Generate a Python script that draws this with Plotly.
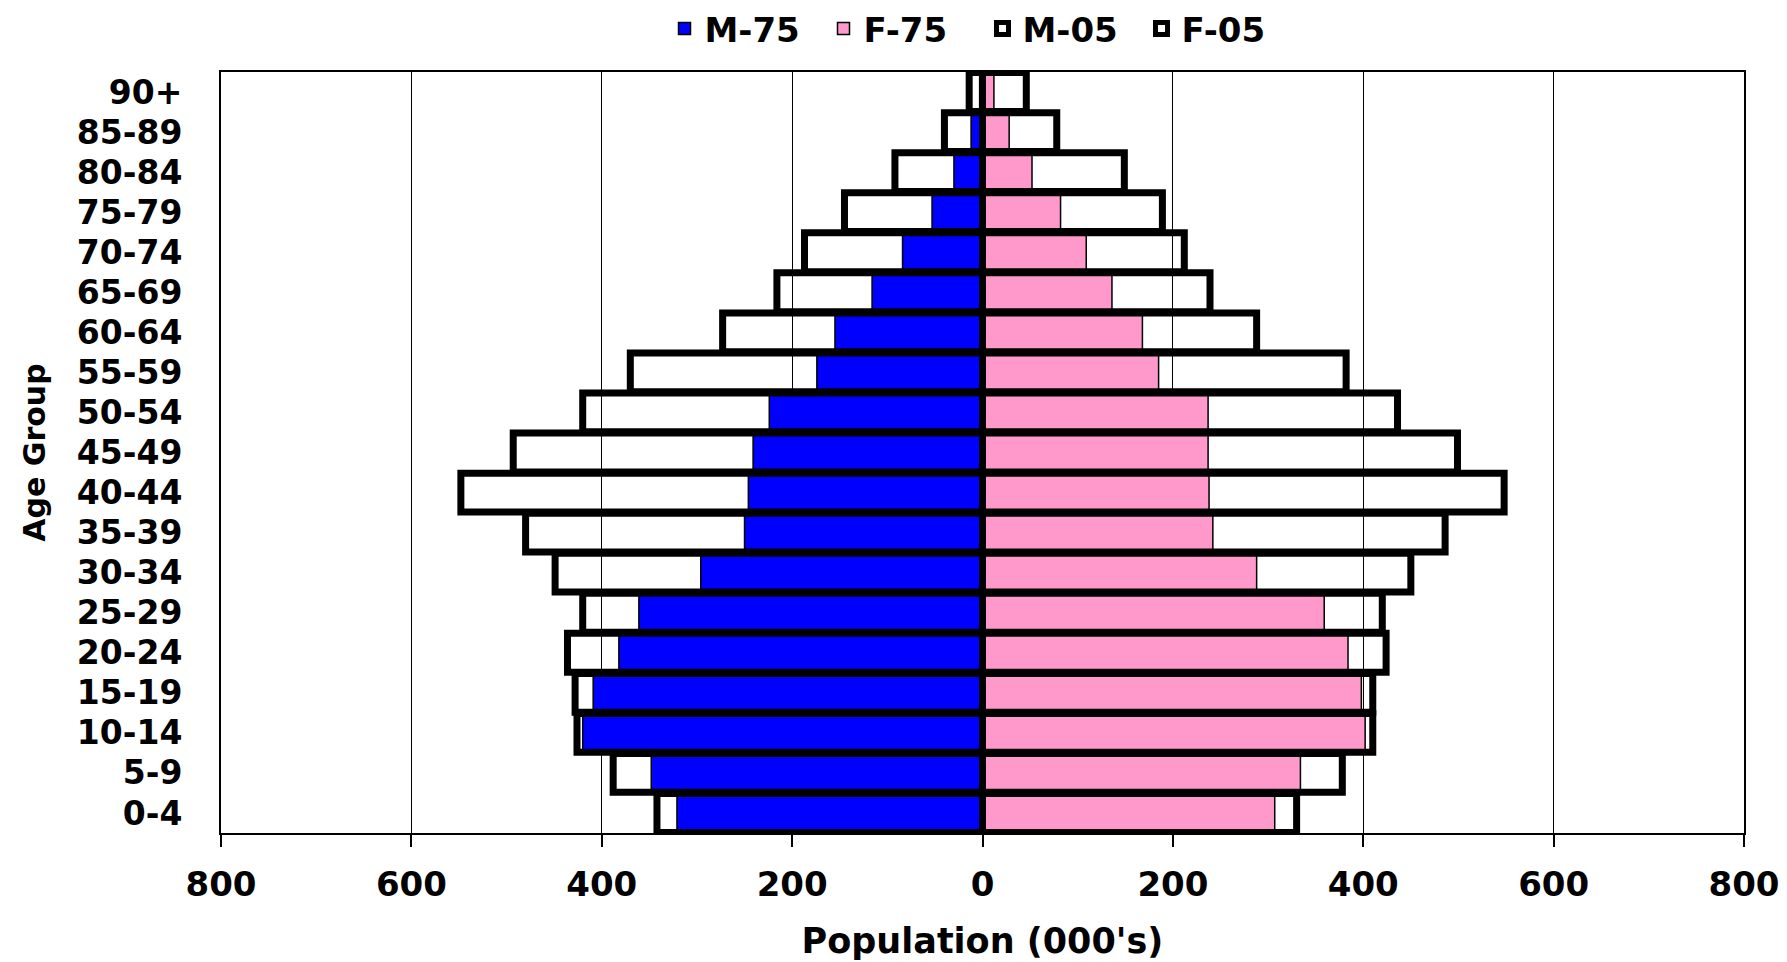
import numpy as np
import plotly.graph_objects as go

# Age groups, youngest at the bottom
age_groups = ["0-4", "5-9", "10-14", "15-19", "20-24", "25-29", "30-34", "35-39",
              "40-44", "45-49", "50-54", "55-59", "60-64", "65-69", "70-74",
              "75-79", "80-84", "85-89", "90+"]

# Population in thousands
male_1975 = [321, 348, 420, 409, 382, 361, 296, 250, 246, 241, 224, 174, 155,
             116, 84, 53, 30, 12, 3]
female_1975 = [307, 334, 402, 398, 384, 359, 288, 242, 238, 237, 237, 185, 168,
               136, 109, 82, 52, 28, 12]
male_2005 = [342, 388, 426, 428, 436, 420, 449, 480, 548, 493, 420, 370, 273,
             216, 187, 145, 92, 40, 14]
female_2005 = [330, 378, 410, 410, 424, 420, 450, 486, 548, 499, 436, 382, 288,
               239, 212, 189, 149, 78, 46]

x_ticks = [-800, -600, -400, -200, 0, 200, 400, 600, 800]
x_tick_text = [str(abs(v)) for v in x_ticks]

FONT = "DejaVu Sans"
BAR_W = 0.97

fig = go.Figure()

# 1975: filled bars
fig.add_trace(go.Bar(
    name="M-75", y=age_groups, x=-np.array(male_1975), orientation="h",
    width=BAR_W, marker=dict(color="#0000FF", line=dict(color="black", width=1.5)),
))
fig.add_trace(go.Bar(
    name="F-75", y=age_groups, x=np.array(female_1975), orientation="h",
    width=BAR_W, marker=dict(color="#FF99CC", line=dict(color="black", width=1.5)),
))
# 2005: heavy outlines drawn on top
fig.add_trace(go.Bar(
    name="M-05", y=age_groups, x=-np.array(male_2005), orientation="h",
    width=BAR_W, marker=dict(color="rgba(255,255,255,0)", line=dict(color="black", width=7)),
))
fig.add_trace(go.Bar(
    name="F-05", y=age_groups, x=np.array(female_2005), orientation="h",
    width=BAR_W, marker=dict(color="rgba(255,255,255,0)", line=dict(color="black", width=7)),
))

fig.update_layout(
    width=1787, height=962,
    barmode="overlay",
    paper_bgcolor="white", plot_bgcolor="white",
    margin=dict(l=221, r=43, t=72, b=129, autoexpand=False),
    font=dict(family=FONT, color="black", weight="bold"),
    hovermode=False,
    legend=dict(
        orientation="h", x=0.5, xanchor="center", y=1, yref="container",
        yanchor="top", font=dict(size=34, family=FONT, weight="bold"),
        traceorder="normal", itemwidth=30,
        entrywidth=114, entrywidthmode="pixels",
    ),
    xaxis=dict(
        range=[-800, 800], tickvals=x_ticks, ticktext=x_tick_text,
        showgrid=True, gridcolor="black", gridwidth=1, zeroline=False,
        ticks="outside", ticklen=12, tickwidth=1.5, tickcolor="black",
        showline=True, linecolor="black", linewidth=2, mirror=True,
        tickfont=dict(size=34, family=FONT, weight="bold"),
        ticklabelstandoff=8, automargin=False,
        title=dict(text="Population (000's)", standoff=26,
                   font=dict(size=35, family=FONT, weight="bold")),
        fixedrange=True,
    ),
    yaxis=dict(
        type="category", categoryorder="array", categoryarray=age_groups,
        range=[-0.5, 18.5], dtick=1, showgrid=False, zeroline=False,
        ticks="", showline=True, linecolor="black", linewidth=2, mirror=True,
        tickfont=dict(size=33, family=FONT, weight="bold"),
        ticklabelstandoff=30, automargin=False,
        title=dict(text="Age Group", standoff=22,
                   font=dict(size=30, family=FONT, weight="bold")),
        fixedrange=True,
    ),
)

fig.write_html("out.html", config={"displayModeBar": False})
